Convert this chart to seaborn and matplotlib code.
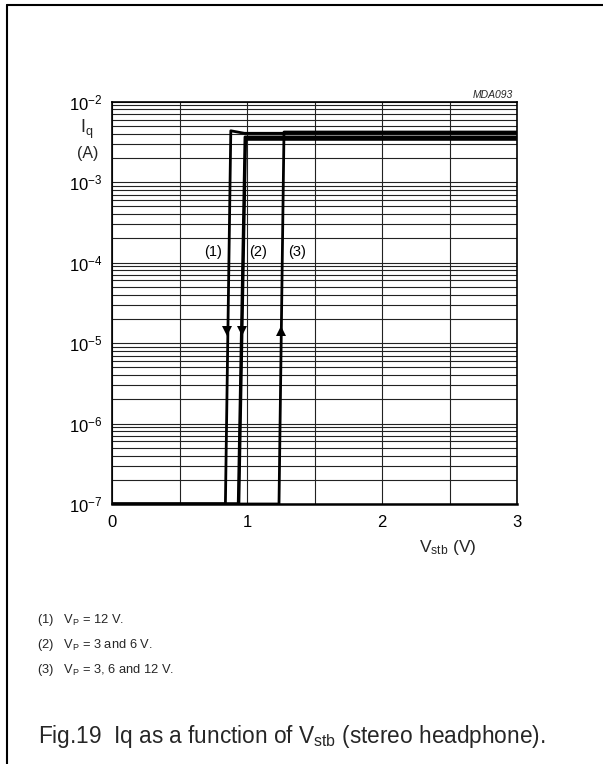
import matplotlib
matplotlib.use("Agg")
import matplotlib.pyplot as plt
from matplotlib.ticker import FixedLocator, LogLocator, NullFormatter
import numpy as np
import pandas as pd
import seaborn as sns

# ---- data ----
c1_v = [0.0, 0.84, 0.88, 0.98, 3.0]          # (1) VP = 12 V, falling
c1_i = [1e-7, 1e-7, 4.35e-3, 4.05e-3, 4.05e-3]
c2a_v = [0.0, 0.935, 0.985, 3.0]             # (2) VP = 3 V
c2a_i = [1e-7, 1e-7, 3.65e-3, 3.65e-3]
c2b_v = [0.0, 0.94, 0.99, 3.0]               # (2) VP = 6 V
c2b_i = [1e-7, 1e-7, 3.4e-3, 3.4e-3]
c3_v = [0.0, 1.237, 1.274, 3.0]              # (3) VP = 3, 6 and 12 V, rising
c3_i = [1e-7, 1e-7, 4.2e-3, 4.2e-3]

arrow_v = [0.853, 0.96, 1.252]
arrow_i = [1.4e-5, 1.4e-5, 1.4e-5]
arrow_dir = ["down", "down", "up"]

label_text = ["(1)", "(2)", "(3)"]
label_v = [0.748, 1.081, 1.37]
label_i = [1.35e-4, 1.35e-4, 1.35e-4]

x_ticks = [0, 1, 2, 3]
y_ticks = [1e-7, 1e-6, 1e-5, 1e-4, 1e-3, 1e-2]
y_tick_labels = [r"$\mathregular{10^{-7}}$", r"$\mathregular{10^{-6}}$", r"$\mathregular{10^{-5}}$",
                 r"$\mathregular{10^{-4}}$", r"$\mathregular{10^{-3}}$", r"$\mathregular{10^{-2}}$"]

notes = [r"(1)   V$_\mathregular{P}$ = 12 V.",
         r"(2)   V$_\mathregular{P}$ = 3 and 6 V.",
         r"(3)   V$_\mathregular{P}$ = 3, 6 and 12 V."]
caption = r"Fig.19  Iq as a function of V$_\mathregular{stb}$ (stereo headphone)."

# ---- style ----
sns.set_theme(style="white")
plt.rcParams["font.family"] = ["Liberation Sans", "DejaVu Sans"]
plt.rcParams["mathtext.fontset"] = "custom"
plt.rcParams["mathtext.rm"] = "Liberation Sans"
plt.rcParams["mathtext.it"] = "Liberation Sans:italic"

W, H = 603, 764
fig = plt.figure(figsize=(W / 100, H / 100), dpi=100)
fig.patch.set_facecolor("white")

# outer frame (top + left)
fig.add_artist(plt.Line2D([7 / W, 7 / W], [0, 1 - 5 / H], color="black", lw=1.5, transform=fig.transFigure))
fig.add_artist(plt.Line2D([7 / W, 1], [1 - 5 / H, 1 - 5 / H], color="black", lw=1.5, transform=fig.transFigure))

L, R, T, B = 112, 517, 101.7, 504
ax = fig.add_axes([L / W, 1 - B / H, (R - L) / W, (B - T) / H])

curves = [(c1_v, c1_i), (c2a_v, c2a_i), (c2b_v, c2b_i), (c3_v, c3_i)]
for k, (vv, ii) in enumerate(curves):
    df = pd.DataFrame({"V": vv, "I": ii})
    sns.lineplot(data=df, x="V", y="I", sort=False, estimator=None, color="black",
                 lw=2.0, ax=ax, zorder=5)

ax.set_yscale("log")
ax.set_xlim(0, 3)
ax.set_ylim(1e-7, 1e-2)

for v, i, d in zip(arrow_v, arrow_i, arrow_dir):
    ax.plot([v], [i], marker="v" if d == "down" else "^", color="black", ms=7, mew=0, zorder=6)

for t, v, i in zip(label_text, label_v, label_i):
    ax.text(v, i, t, ha="center", va="center", fontsize=10.5, color="black")

ax.xaxis.set_major_locator(FixedLocator(x_ticks))
ax.xaxis.set_minor_locator(FixedLocator([0.5, 1.5, 2.5]))
ax.set_xticklabels([str(t) for t in x_ticks])
ax.yaxis.set_major_locator(FixedLocator(y_ticks))
ax.set_yticklabels(y_tick_labels)
ax.yaxis.set_minor_locator(LogLocator(base=10, subs=np.arange(2, 10), numticks=20))
ax.yaxis.set_minor_formatter(NullFormatter())
ax.tick_params(axis="both", which="both", length=0, labelsize=12, colors="black")
ax.tick_params(axis="y", pad=7)
ax.tick_params(axis="x", pad=8)

ax.grid(True, which="both", axis="both", color="#222222", lw=0.8)
for s in ax.spines.values():
    s.set_color("black")
    s.set_linewidth(1.2)
ax.spines["bottom"].set_linewidth(1.8)
ax.set_xlabel("")
ax.set_ylabel("")

ax.text(-0.062, 0.932, r"I$_\mathregular{q}$", transform=ax.transAxes, ha="center", va="center", fontsize=13)
ax.text(-0.059, 0.870, "(A)", transform=ax.transAxes, ha="center", va="center", fontsize=11.5)
ax.text(0.83, -0.107, r"V$_\mathregular{stb}$ (V)", transform=ax.transAxes, ha="center", va="center", fontsize=12.5)
ax.text(1.0 - 4 / (R - L), 1.005, "MDA093", transform=ax.transAxes, ha="right", va="bottom",
        fontsize=7.5, style="italic")

for k, n in enumerate(notes):
    fig.text(37 / W, 1 - (620 + 25 * k) / H, n, ha="left", va="center", fontsize=9.3)
fig.text(38 / W, 1 - 736 / H, caption, ha="left", va="center", fontsize=16.3)

fig.savefig("out.png", dpi=100, facecolor="white")
